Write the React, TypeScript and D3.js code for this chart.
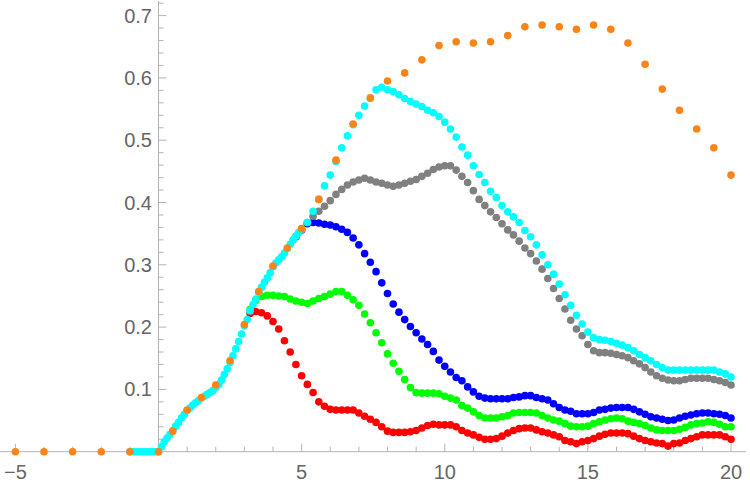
import * as d3 from 'd3'

// 캔버스 / 축 위치
const W = 750
const H = 488
const X0 = 158.5   // x=0 (y축 위치)
const UNIT = 28.625
const Y0 = 451.7   // y=0
const YTOP = 15.6  // y=0.7

// ── 데이터 ──
// 주황: 불균일 간격
const orangeX = [
  -5, -4, -3, -2, -1, 0, 0.5, 1, 1.5, 2, 2.5, 3, 3.5, 4, 4.5, 5,
  5.6, 6.2, 6.8, 7.4, 8, 8.6, 9.2, 9.8, 10.4, 11, 11.6, 12.2, 12.8, 13.4,
  14, 14.6, 15.2, 15.8, 16.4, 17, 17.6, 18.2, 18.8, 19.4, 20,
]
const orangeY = [
  0, 0, 0, 0, 0, 0, 0.033, 0.067, 0.087, 0.107, 0.146, 0.204, 0.257, 0.298, 0.327, 0.358,
  0.405, 0.468, 0.526, 0.568, 0.595, 0.608, 0.629, 0.652, 0.658, 0.656, 0.658, 0.668, 0.682, 0.685,
  0.682, 0.678, 0.685, 0.678, 0.656, 0.622, 0.582, 0.548, 0.518, 0.488, 0.444,
]

// 시안: -1..5 (0.1 간격) + 5.2..20 (0.2 간격)
const cyanFineStart = -1
const cyanFine = [
  0, 0, 0, 0, 0, 0, 0, 0, 0, 0, 0,
  0.008, 0.016, 0.022, 0.028, 0.034, 0.041, 0.047, 0.054, 0.060, 0.066,
  0.070, 0.075, 0.079, 0.082, 0.086, 0.089, 0.092, 0.095, 0.098, 0.103,
  0.108, 0.115, 0.124, 0.133, 0.143, 0.154, 0.165, 0.177, 0.189, 0.202,
  0.212, 0.226, 0.236, 0.245, 0.256, 0.264, 0.272, 0.279, 0.287, 0.297,
  0.303, 0.308, 0.313, 0.319, 0.326, 0.333, 0.340, 0.346, 0.352, 0.357,
]
const cyanStart = 5.2
const cyan = [
  0.368, 0.386, 0.405, 0.427, 0.444, 0.466, 0.488, 0.507, 0.525, 0.540,
  0.555, 0.567, 0.581, 0.585, 0.581, 0.578, 0.573, 0.567, 0.562, 0.558,
  0.554, 0.548, 0.544, 0.538, 0.529, 0.518, 0.505, 0.489, 0.476, 0.459,
  0.445, 0.432, 0.418, 0.408, 0.395, 0.385, 0.377, 0.368, 0.355, 0.345,
  0.332, 0.316, 0.300, 0.285, 0.269, 0.252, 0.235, 0.219, 0.205, 0.192,
  0.183, 0.180, 0.179, 0.177, 0.174, 0.171, 0.167, 0.162, 0.156, 0.151,
  0.146, 0.140, 0.135, 0.131, 0.131, 0.131, 0.131, 0.131, 0.131, 0.131,
  0.131, 0.131, 0.128, 0.125, 0.120,
]

const redStart = 3.2
const red = [
  0.222, 0.225, 0.223, 0.218, 0.209, 0.197, 0.178, 0.160, 0.140, 0.122,
  0.108, 0.095, 0.080, 0.073, 0.068, 0.067, 0.067, 0.067, 0.067, 0.062,
  0.057, 0.052, 0.047, 0.040, 0.033, 0.031, 0.031, 0.031, 0.032, 0.034,
  0.038, 0.042, 0.044, 0.043, 0.043, 0.043, 0.040, 0.034, 0.030, 0.027,
  0.023, 0.020, 0.020, 0.021, 0.025, 0.030, 0.034, 0.037, 0.038, 0.038,
  0.035, 0.032, 0.030, 0.027, 0.024, 0.018, 0.016, 0.013, 0.016, 0.018,
  0.021, 0.025, 0.028, 0.030, 0.030, 0.030, 0.029, 0.025, 0.021, 0.018,
  0.016, 0.014, 0.013, 0.009, 0.013, 0.014, 0.018, 0.021, 0.024, 0.027,
  0.027, 0.027, 0.027, 0.024, 0.020,
]

const greenStart = 3.2
const green = [
  0.228, 0.243, 0.249, 0.251, 0.251, 0.250, 0.249, 0.245, 0.242, 0.240,
  0.238, 0.242, 0.246, 0.249, 0.253, 0.257, 0.257, 0.251, 0.244, 0.235,
  0.221, 0.207, 0.191, 0.175, 0.157, 0.142, 0.129, 0.116, 0.103, 0.095,
  0.094, 0.094, 0.094, 0.093, 0.089, 0.086, 0.083, 0.074, 0.070, 0.064,
  0.058, 0.054, 0.054, 0.054, 0.056, 0.058, 0.062, 0.063, 0.063, 0.063,
  0.062, 0.058, 0.054, 0.051, 0.049, 0.045, 0.041, 0.040, 0.040, 0.041,
  0.045, 0.048, 0.051, 0.053, 0.054, 0.053, 0.049, 0.047, 0.045, 0.042,
  0.038, 0.035, 0.034, 0.034, 0.034, 0.036, 0.039, 0.043, 0.045, 0.046,
  0.048, 0.047, 0.044, 0.040, 0.040,
]

const blueStart = 4.8
const blue = [
  0.345, 0.356,
  0.366, 0.368, 0.367, 0.365, 0.364, 0.361, 0.357, 0.352, 0.343, 0.332,
  0.318, 0.304, 0.289, 0.271, 0.254, 0.237, 0.224, 0.212, 0.201, 0.191,
  0.181, 0.172, 0.161, 0.147, 0.137, 0.128, 0.119, 0.114, 0.104, 0.096,
  0.089, 0.086, 0.085, 0.085, 0.085, 0.085, 0.087, 0.088, 0.090, 0.090,
  0.087, 0.085, 0.083, 0.077, 0.071, 0.067, 0.065, 0.061, 0.061, 0.061,
  0.063, 0.067, 0.068, 0.070, 0.071, 0.071, 0.071, 0.068, 0.064, 0.060,
  0.056, 0.054, 0.052, 0.050, 0.051, 0.054, 0.057, 0.059, 0.061, 0.062,
  0.062, 0.061, 0.060, 0.058, 0.054,
]

const grayStart = 5.0
const gray = [
  0.357,
  0.368, 0.378, 0.386, 0.394, 0.403, 0.413, 0.421, 0.428, 0.433, 0.436,
  0.439, 0.436, 0.433, 0.431, 0.428, 0.426, 0.428, 0.431, 0.434, 0.437,
  0.442, 0.447, 0.453, 0.457, 0.459, 0.459, 0.452, 0.442, 0.432, 0.419,
  0.405, 0.395, 0.385, 0.376, 0.366, 0.356, 0.348, 0.338, 0.327, 0.318,
  0.306, 0.293, 0.278, 0.262, 0.246, 0.229, 0.211, 0.197, 0.186, 0.172,
  0.162, 0.159, 0.159, 0.158, 0.156, 0.154, 0.151, 0.146, 0.141, 0.135,
  0.128, 0.122, 0.118, 0.115, 0.114, 0.114, 0.116, 0.118, 0.118, 0.118,
  0.118, 0.116, 0.114, 0.111, 0.107,
]

const xMajor = [-5, 5, 10, 15, 20]
const yMajor = [0.1, 0.2, 0.3, 0.4, 0.5, 0.6, 0.7]

type Pt = { x: number; y: number }

// 등간격 격자 위의 값 → 점
const onGrid = (start: number, step: number, vals: number[]): Pt[] =>
  vals.map((y, i) => ({ x: Math.round((start + i * step) * 10) / 10, y }))

const seriesList: { color: string; pts: Pt[] }[] = [
  { color: '#FF0000', pts: onGrid(redStart, 0.2, red) },
  { color: '#00FF00', pts: onGrid(greenStart, 0.2, green) },
  { color: '#0000FF', pts: onGrid(blueStart, 0.2, blue) },
  { color: '#808080', pts: onGrid(grayStart, 0.2, gray) },
  { color: '#00FFFF', pts: [...onGrid(cyanFineStart, 0.1, cyanFine), ...onGrid(cyanStart, 0.2, cyan)] },
  { color: '#FA8418', pts: orangeX.map((x, i) => ({ x, y: orangeY[i] })) },
]

const xScale = d3.scaleLinear().domain([0, 20]).range([X0, X0 + 20 * UNIT])
const yScale = d3.scaleLinear().domain([0, 0.7]).range([Y0, YTOP])

const AXIS = '#B3B3B3'
const LABEL = '#666666'
const FONT = '"Liberation Sans", Arial, sans-serif'

export default function App() {
  const xMinor = d3.range(-5, 21).filter((v) => v !== 0 && v % 5 !== 0)
  const yMinor = d3.range(1, 37).map((i) => i * 0.02).filter((_, i) => (i + 1) % 5 !== 0)

  return (
    <svg
      width={W}
      height={H}
      viewBox={`0 0 ${W} ${H}`}
      style={{ position: 'absolute', left: 0, top: 0, background: '#fff' }}
    >
      {/* ── 축 ── */}
      <line x1={0} x2={746} y1={Y0} y2={Y0} stroke={AXIS} strokeWidth={1} />
      <line x1={X0} x2={X0} y1={Y0} y2={1} stroke={AXIS} strokeWidth={1} />

      {xMinor.map((v) => (
        <line key={`xm${v}`} x1={xScale(v)} x2={xScale(v)} y1={Y0} y2={Y0 - 5} stroke={AXIS} />
      ))}
      {xMajor.map((v) => (
        <g key={`xM${v}`}>
          <line x1={xScale(v)} x2={xScale(v)} y1={Y0} y2={Y0 - 8} stroke={AXIS} />
          <text
            x={xScale(v)} y={479} textAnchor="middle"
            fontFamily={FONT} fontSize={20} fill={LABEL}
          >
            {v < 0 ? `\u2212${-v}` : v}
          </text>
        </g>
      ))}

      {yMinor.map((v, i) => (
        <line key={`ym${i}`} x1={X0} x2={X0 + 5} y1={yScale(v)} y2={yScale(v)} stroke={AXIS} />
      ))}
      {yMajor.map((v) => (
        <g key={`yM${v}`}>
          <line x1={X0} x2={X0 + 8} y1={yScale(v)} y2={yScale(v)} stroke={AXIS} />
          <text
            x={152} y={yScale(v)} dy="0.35em" textAnchor="end"
            fontFamily={FONT} fontSize={20} fill={LABEL}
          >
            {v.toFixed(1)}
          </text>
        </g>
      ))}

      {/* ── 점 ── */}
      {seriesList.map((s, si) => (
        <g key={si} fill={s.color}>
          {s.pts.map((p, i) => (
            <circle key={i} cx={xScale(p.x)} cy={yScale(p.y)} r={3.8} />
          ))}
        </g>
      ))}
    </svg>
  )
}
